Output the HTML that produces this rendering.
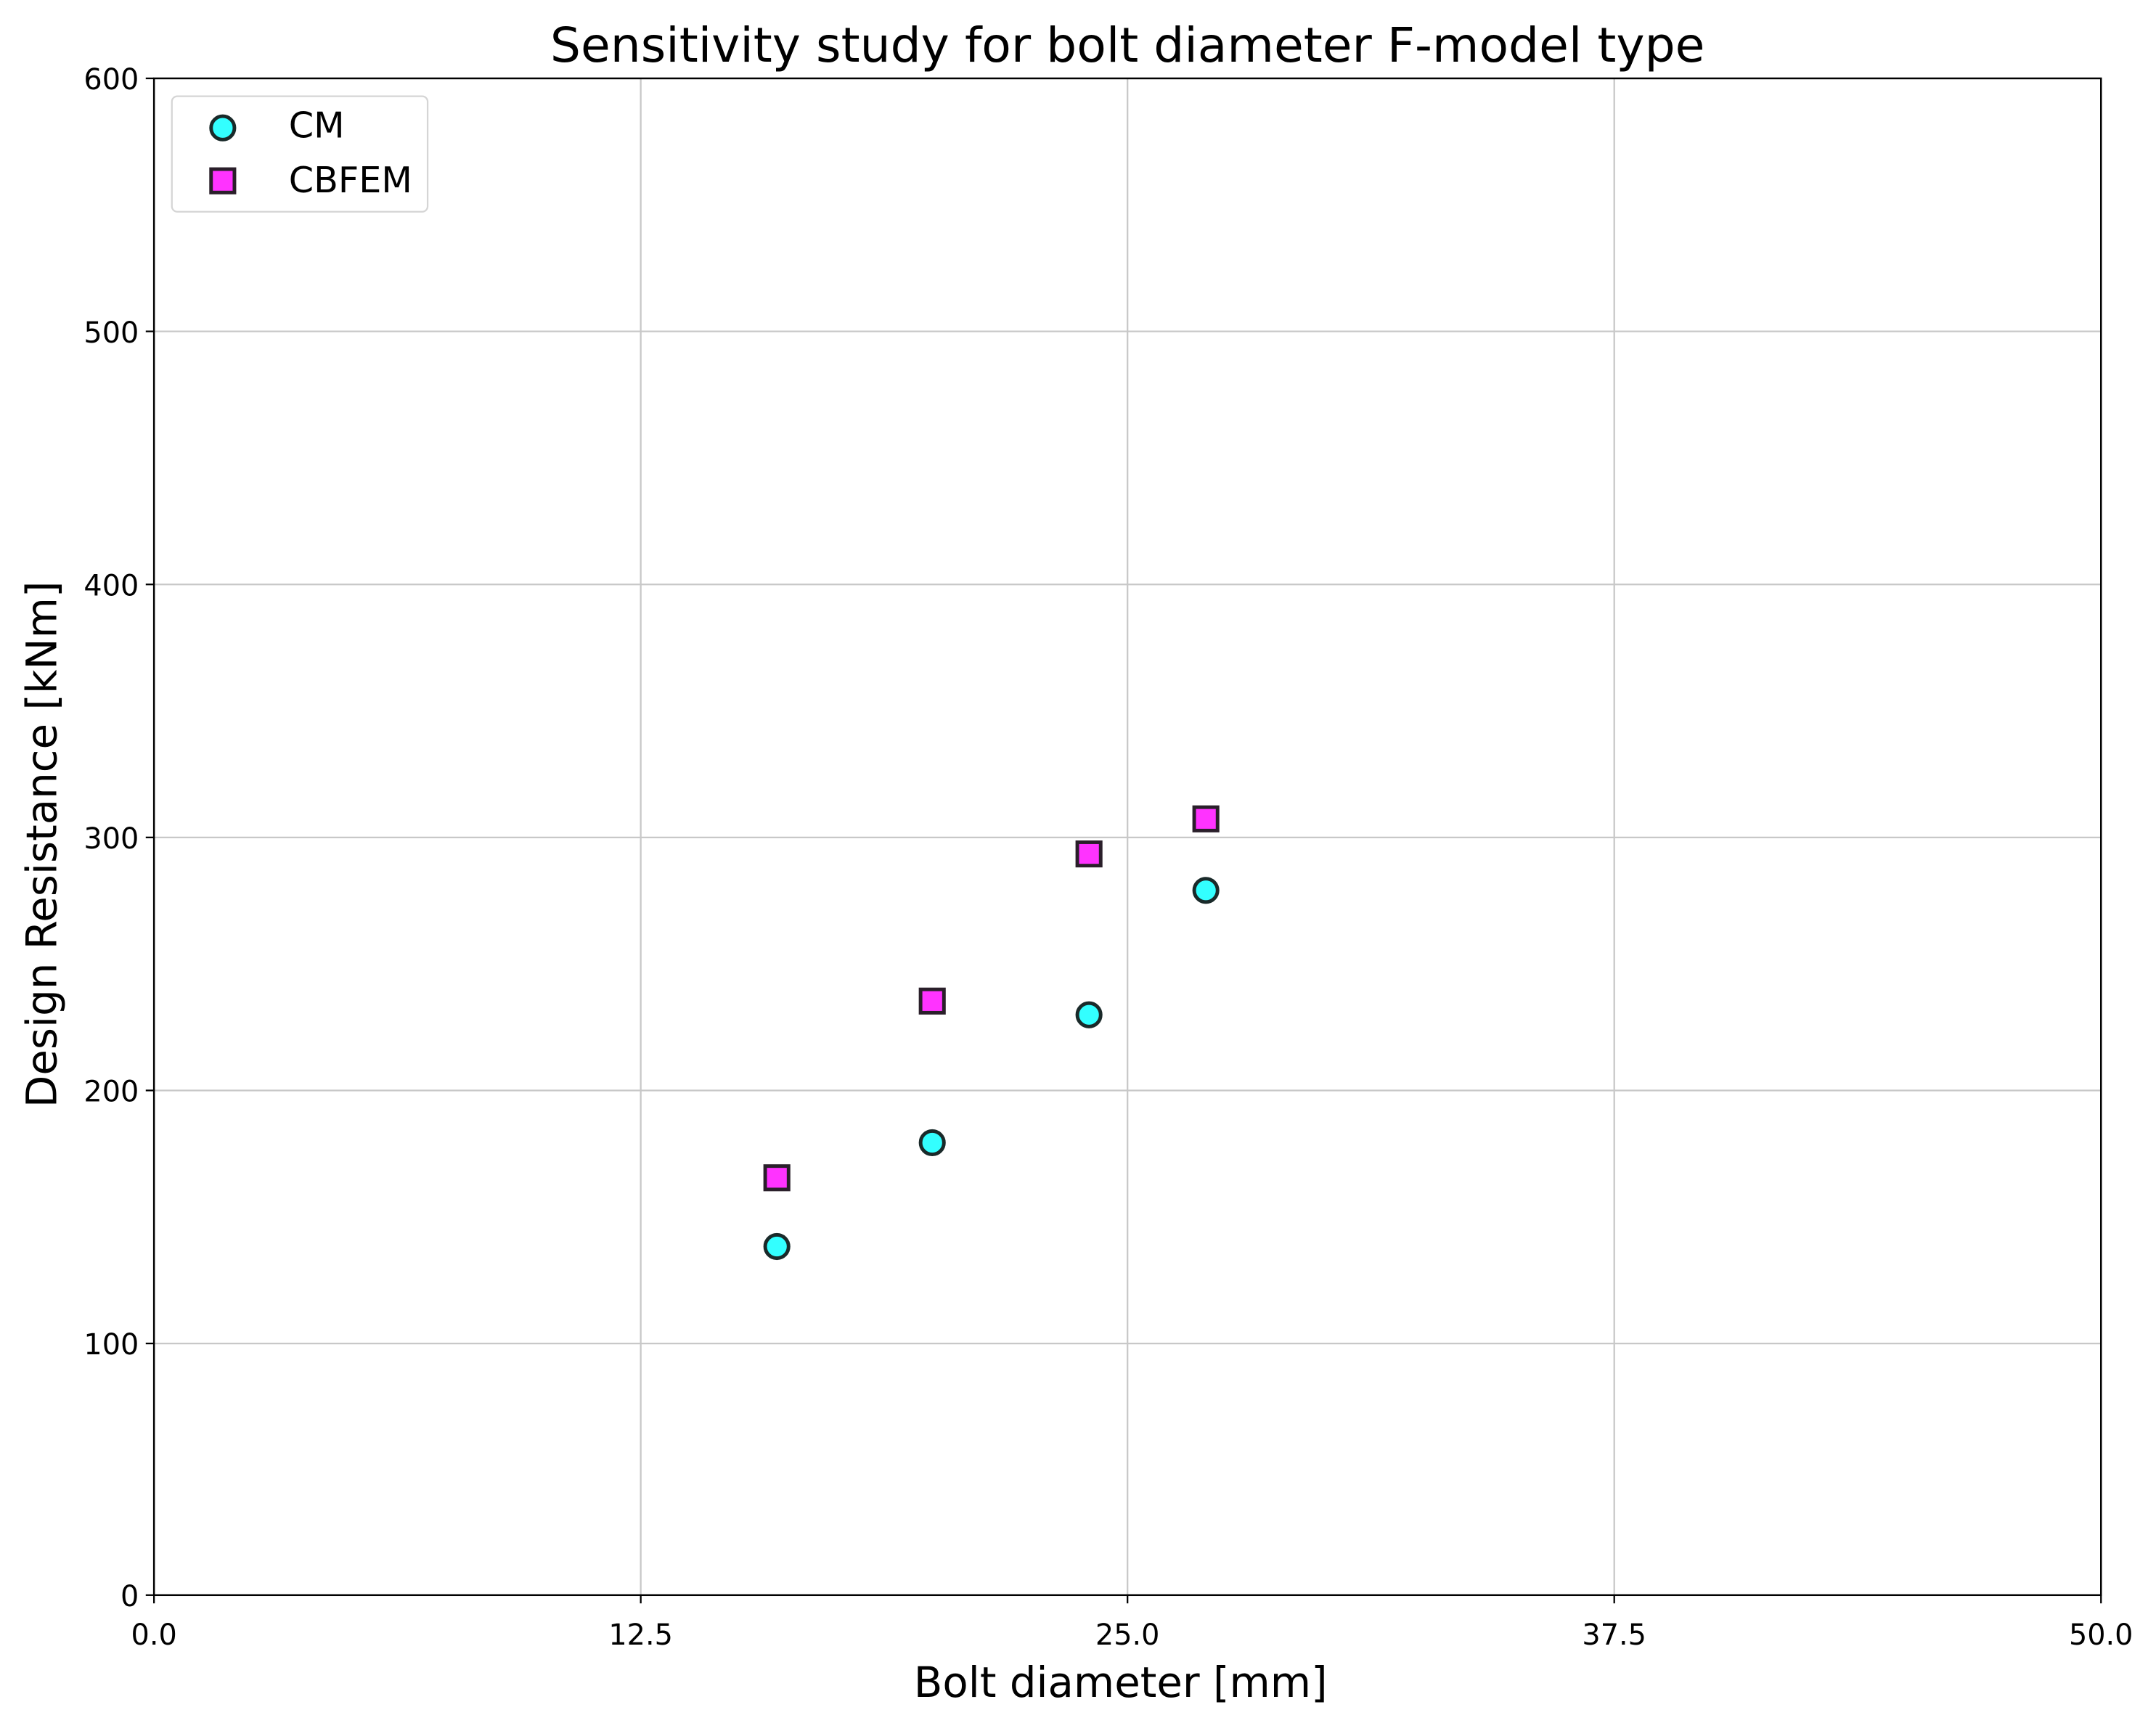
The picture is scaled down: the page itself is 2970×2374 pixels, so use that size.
<!DOCTYPE html>
<html><head><style>html,body{margin:0;padding:0;background:#fff}svg{display:block}</style></head>
<body>
<svg width="2970" height="2374" viewBox="0 0 1568 1253" preserveAspectRatio="none" xmlns="http://www.w3.org/2000/svg" font-family="'DejaVu Sans','Liberation Sans',sans-serif">
<rect width="1568" height="1253" fill="#fff"/>
<g stroke="#c8c8c8" stroke-width="1.2">
<line x1="466" y1="57" x2="466" y2="1160"/><line x1="820" y1="57" x2="820" y2="1160"/><line x1="1174" y1="57" x2="1174" y2="1160"/>
<line x1="112" y1="241" x2="1528" y2="241"/><line x1="112" y1="425" x2="1528" y2="425"/><line x1="112" y1="609" x2="1528" y2="609"/><line x1="112" y1="793" x2="1528" y2="793"/><line x1="112" y1="977" x2="1528" y2="977"/>
</g>
<rect x="112" y="57" width="1416" height="1103" fill="none" stroke="#000" stroke-width="1.3"/>
<g stroke="#000" stroke-width="1.2">
<line x1="112" y1="1160" x2="112" y2="1166"/><line x1="466" y1="1160" x2="466" y2="1166"/><line x1="820" y1="1160" x2="820" y2="1166"/><line x1="1174" y1="1160" x2="1174" y2="1166"/><line x1="1528" y1="1160" x2="1528" y2="1166"/>
<line x1="106" y1="57" x2="112" y2="57"/><line x1="106" y1="241" x2="112" y2="241"/><line x1="106" y1="425" x2="112" y2="425"/><line x1="106" y1="609" x2="112" y2="609"/><line x1="106" y1="793" x2="112" y2="793"/><line x1="106" y1="977" x2="112" y2="977"/><line x1="106" y1="1160" x2="112" y2="1160"/>
</g>
<g font-size="21" text-anchor="middle" fill="#000">
<text x="112" y="1196">0.0</text><text x="466" y="1196">12.5</text><text x="820" y="1196">25.0</text><text x="1174" y="1196">37.5</text><text x="1528" y="1196">50.0</text>
</g>
<g font-size="21" text-anchor="end" fill="#000">
<text x="101" y="65">600</text><text x="101" y="249">500</text><text x="101" y="433">400</text><text x="101" y="617">300</text><text x="101" y="801">200</text><text x="101" y="985">100</text><text x="101" y="1168">0</text>
</g>
<text x="820" y="45" font-size="35" text-anchor="middle">Sensitivity study for bolt diameter F-model type</text>
<text x="815" y="1234" font-size="30.5" text-anchor="middle">Bolt diameter [mm]</text>
<text transform="translate(41,614) rotate(-90)" font-size="30.5" text-anchor="middle">Design Resistance [kNm]</text>
<g fill="#33ffff" stroke="#1a2a2a" stroke-width="2.6">
<circle cx="565" cy="906.5" r="8.5"/><circle cx="678" cy="831" r="8.5"/><circle cx="792" cy="738" r="8.5"/><circle cx="877" cy="647.5" r="8.5"/>
</g>
<g fill="#ff33ff" stroke="#2a1f2a" stroke-width="2.6">
<rect x="556.5" y="848" width="17" height="17"/><rect x="669.5" y="719.5" width="17" height="17"/><rect x="783.5" y="612.5" width="17" height="17"/><rect x="868.5" y="587" width="17" height="17"/>
</g>
<rect x="125" y="70" width="186" height="84" rx="4" fill="#fff" stroke="#d5d5d5" stroke-width="1.2"/>
<circle cx="162" cy="93" r="8.5" fill="#33ffff" stroke="#1a2a2a" stroke-width="2.6"/>
<rect x="153.5" y="123" width="17" height="17" fill="#ff33ff" stroke="#2a1f2a" stroke-width="2.6"/>
<text x="210" y="100" font-size="26">CM</text>
<text x="210" y="140" font-size="26">CBFEM</text>
</svg>
</body></html>
